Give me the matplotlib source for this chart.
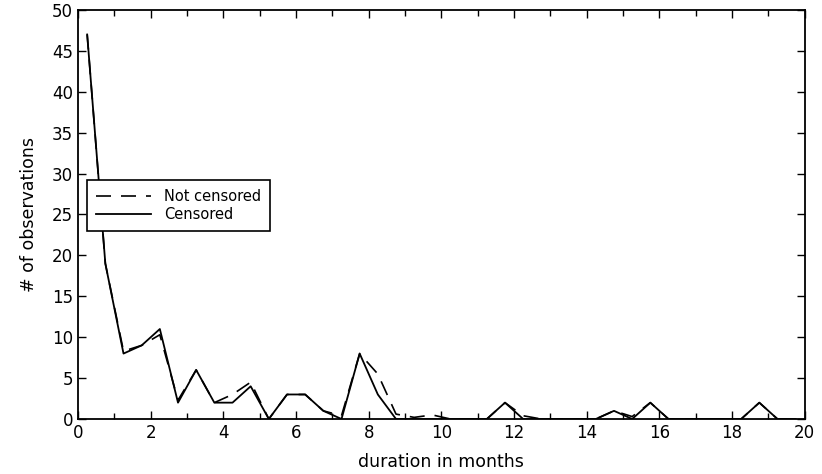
import matplotlib
matplotlib.use("Agg")
import matplotlib.pyplot as plt
import numpy as np

months = [0.25, 0.75, 1.25, 1.75, 2.25, 2.75, 3.25, 3.75, 4.25, 4.75,
          5.25, 5.75, 6.25, 6.75, 7.25, 7.75, 8.25, 8.75, 9.25, 9.75,
          10.25, 10.75, 11.25, 11.75, 12.25, 12.75, 13.25, 13.75, 14.25, 14.75,
          15.25, 15.75, 16.25, 16.75, 17.25, 17.75, 18.25, 18.75, 19.25, 19.75]
not_censored = [47, 19, 8.3, 9, 10.3, 2.3, 6, 2, 3, 4.5,
                0, 3, 3, 1, 0.4, 8, 5.5, 0.6, 0.2, 0.5,
                0, 0, 0, 2, 0.4, 0, 0, 0, 0, 1,
                0.3, 2, 0, 0, 0, 0, 0, 2, 0, 0]
censored = [47, 19, 8, 9, 11, 2, 6, 2, 2, 4,
            0, 3, 3, 1, 0, 8, 3, 0, 0, 0,
            0, 0, 0, 2, 0, 0, 0, 0, 0, 1,
            0, 2, 0, 0, 0, 0, 0, 2, 0, 0]
x_ticks = [0, 2, 4, 6, 8, 10, 12, 14, 16, 18, 20]
y_ticks = [0, 5, 10, 15, 20, 25, 30, 35, 40, 45, 50]

fig = plt.figure(figsize=(8.22, 4.74), dpi=100)
ax = fig.add_axes([0.095, 0.116, 0.884, 0.863])
ax.plot(months, not_censored, color="black", lw=1.2, dashes=(9, 6), label="Not censored")
ax.plot(months, censored, color="black", lw=1.3, label="Censored")
ax.set_xlim(0, 20)
ax.set_ylim(0, 50)
ax.set_xticks(x_ticks)
ax.set_xticks(np.arange(0, 21, 1), minor=True)
ax.set_yticks(y_ticks)
ax.tick_params(which="both", direction="in", top=True, right=True, labelsize=12, width=1)
ax.tick_params(which="major", length=6)
ax.tick_params(which="minor", length=4)
for s in ax.spines.values():
    s.set_linewidth(1.3)
ax.set_xlabel("duration in months", fontsize=12.5, labelpad=8)
ax.set_ylabel("# of observations", fontsize=12.5, labelpad=10)
leg = ax.legend(loc="upper left", bbox_to_anchor=(0.012, 0.584), borderaxespad=0,
                fontsize=10.5, frameon=True, fancybox=False, edgecolor="black",
                framealpha=1, handlelength=3.8, handletextpad=0.9,
                borderpad=0.6, labelspacing=0.2)
leg.get_frame().set_linewidth(1.2)
fig.savefig("out.png", dpi=100)
